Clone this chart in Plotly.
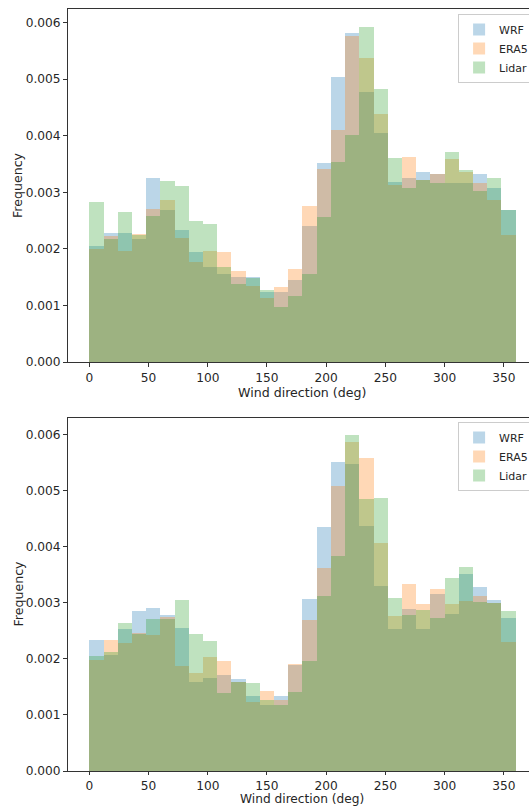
import plotly.graph_objects as go

# Bin start edges (deg), 12-degree bins
bin_starts = [0, 12, 24, 36, 48, 60, 72, 84, 96, 108, 120, 132, 144, 156, 168,
              180, 192, 204, 216, 228, 240, 252, 264, 276, 288, 300, 312, 324, 336, 348]
bin_width = 12

# Top panel frequencies (x 0.001)
top_wrf = [2.05, 2.28, 2.28, 2.17, 3.26, 2.68, 2.34, 1.94, 1.68, 1.56, 1.50, 1.50, 1.23, 1.24, 1.45,
           2.41, 3.51, 5.03, 5.81, 4.78, 4.05, 3.19, 3.26, 3.36, 3.33, 3.16, 3.17, 3.33, 3.08, 2.69]
top_era5 = [2.00, 2.22, 1.96, 2.27, 2.70, 2.87, 2.20, 1.77, 1.97, 1.94, 1.61, 1.35, 1.14, 1.32, 1.65,
            2.76, 3.41, 4.11, 5.76, 5.37, 4.38, 3.13, 3.63, 3.22, 3.32, 3.58, 3.36, 3.16, 2.86, 2.24]
top_lidar = [2.83, 2.18, 2.66, 2.24, 2.58, 3.20, 3.12, 2.49, 2.44, 1.68, 1.38, 1.49, 1.27, 0.97, 1.17,
             1.55, 2.56, 3.54, 4.02, 5.93, 4.82, 3.60, 3.08, 3.21, 3.16, 3.71, 3.40, 3.03, 3.25, 2.68]

# Bottom panel frequencies (x 0.001)
bot_wrf = [2.34, 2.08, 2.54, 2.85, 2.91, 2.79, 2.56, 1.59, 1.66, 1.72, 1.65, 1.34, 1.19, 1.34, 1.89,
           3.08, 4.35, 5.52, 5.48, 4.38, 3.30, 2.53, 2.90, 2.54, 3.16, 2.81, 3.51, 3.28, 3.06, 2.73]
bot_era5 = [1.98, 2.34, 2.29, 2.46, 2.43, 2.76, 1.88, 1.76, 2.03, 1.97, 1.60, 1.24, 1.44, 1.27, 1.92,
            2.69, 3.63, 5.08, 5.88, 5.59, 4.07, 2.77, 3.34, 2.98, 3.25, 2.99, 3.03, 3.12, 3.01, 2.30]
bot_lidar = [2.05, 2.13, 2.65, 2.45, 2.72, 2.72, 3.05, 2.45, 2.32, 1.39, 1.60, 1.58, 1.27, 1.19, 1.42,
             1.96, 3.12, 3.84, 6.00, 4.86, 4.88, 3.09, 2.78, 2.88, 2.74, 3.45, 3.65, 3.02, 3.00, 2.85]

series_names = ["WRF", "ERA5", "Lidar"]
series_colors = ["rgba(31,119,180,0.3)", "rgba(255,127,14,0.3)", "rgba(44,160,44,0.3)"]
x_ticks = [0, 50, 100, 150, 200, 250, 300, 350]
y_ticks = [0, 0.001, 0.002, 0.003, 0.004, 0.005, 0.006]

W, H = 529, 806
ml, mr, mt, mb = 67.5, 0, 9, 35
plot_h = H - mt - mb
x_lo, x_hi = -18, 378 - (537 - 529) / 1.186  # axes extend past the right edge (cropped)

def py(p):  # pixel y -> paper y
    return (H - mb - p) / plot_h

def px(p):
    return (p - ml) / (W - ml - mr)

centers = [b + bin_width / 2 for b in bin_starts]

fig = go.Figure()
panels = [
    ("x", "y", [top_wrf, top_era5, top_lidar], "legend"),
    ("x2", "y2", [bot_wrf, bot_era5, bot_lidar], "legend2"),
]
for xa, ya, data, lg in panels:
    for name, col, vals in zip(series_names, series_colors, data):
        fig.add_trace(go.Bar(
            x=centers, y=[v * 0.001 for v in vals], width=bin_width,
            name=name, marker=dict(color=col, line=dict(width=0)),
            xaxis=xa, yaxis=ya, legend=lg, showlegend=True,
        ))

font = dict(family="DejaVu Sans", size=12.2, color="#262626")
leg_font = dict(family="DejaVu Sans", size=11, color="#262626")
lab_font = dict(family="DejaVu Sans", size=12.6, color="#262626")
lab_font_b = dict(family="DejaVu Sans", size=12.2, color="#262626")
axis_common = dict(
    showgrid=False, zeroline=False, showline=True, linecolor="#333333", linewidth=1,
    ticks="outside", tickwidth=1, tickcolor="#333333", tickfont=font,
)

fig.update_layout(
    width=W, height=H,
    margin=dict(l=ml, r=mr, t=mt, b=mb, autoexpand=False),
    paper_bgcolor="white", plot_bgcolor="white",
    barmode="overlay", bargap=0,
    font=font,
    xaxis=dict(domain=[0, 1], anchor="y", range=[x_lo, x_hi], ticklen=4,
               tickvals=x_ticks, mirror=True, **axis_common),
    yaxis=dict(domain=[py(362), 1], anchor="x", range=[0, 0.00624], ticklen=4,
               tickvals=y_ticks, tickformat=".3f", **axis_common),
    xaxis2=dict(domain=[0, 1], anchor="y2", range=[x_lo, x_hi], ticklen=3,
                tickvals=x_ticks, mirror=True, **axis_common),
    yaxis2=dict(domain=[0, py(417.7)], anchor="x2", range=[0, 0.0063], ticklen=4,
                tickvals=y_ticks, tickformat=".3f", **axis_common),
    legend=dict(x=px(458), y=py(14), xanchor="left", yanchor="top",
                bgcolor="rgba(255,255,255,0.8)", bordercolor="#cccccc", borderwidth=1,
                font=leg_font, tracegroupgap=0),
    legend2=dict(x=px(458), y=py(422), xanchor="left", yanchor="top",
                 bgcolor="rgba(255,255,255,0.8)", bordercolor="#cccccc", borderwidth=1,
                 font=leg_font, tracegroupgap=0),
    annotations=[
        dict(text="Wind direction (deg)", x=180, xref="x", y=py(392), yref="paper",
             showarrow=False, yanchor="middle", font=lab_font),
        dict(text="Wind direction (deg)", x=180, xref="x2", y=py(799), yref="paper",
             showarrow=False, yanchor="middle", font=lab_font_b),
        dict(text="Frequency", x=px(17), xref="paper", y=py(185.5), yref="paper",
             showarrow=False, textangle=-90, xanchor="center", yanchor="middle", font=lab_font),
        dict(text="Frequency", x=px(17), xref="paper", y=py(594), yref="paper",
             showarrow=False, textangle=-90, xanchor="center", yanchor="middle", font=lab_font),
    ],
)

fig.write_html("out.html")
